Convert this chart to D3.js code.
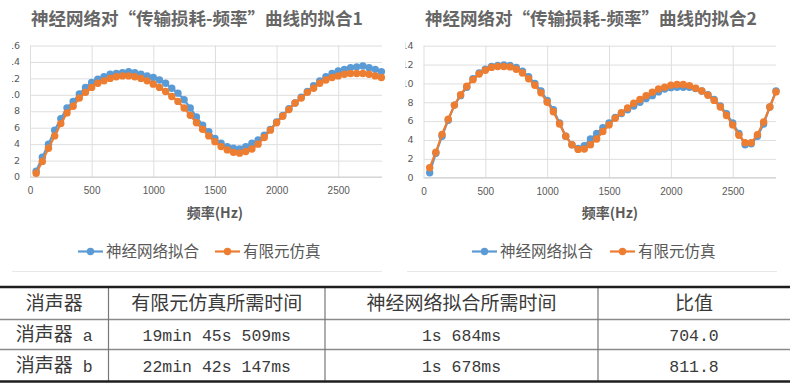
<!DOCTYPE html>
<html>
<head>
<meta charset="utf-8">
<script src="https://cdn.jsdelivr.net/npm/d3@7"></script>
<style>
  html, body { margin: 0; padding: 0; background: #ffffff; }
  svg { display: block; }
  text { white-space: pre; }
</style>
</head>
<body>
<script>
// ---------------- DATA ----------------
const freqs = [50,100,150,200,250,300,350,400,450,500,550,600,650,700,750,800,850,900,950,1000,
  1050,1100,1150,1200,1250,1300,1350,1400,1450,1500,1550,1600,1650,1700,1750,1800,1850,1900,1950,2000,
  2050,2100,2150,2200,2250,2300,2350,2400,2450,2500,2550,2600,2650,2700,2750,2800,2850];

const seriesNames = ["神经网络拟合", "有限元仿真"];

// Chart 1
const nn1 = [0.7,2.4,4.0,5.7,7.1,8.4,9.2,10.1,10.9,11.5,11.9,12.2,12.5,12.6,12.7,12.8,12.7,12.5,12.3,12.1,
  11.8,11.4,10.8,10.2,9.4,8.4,7.3,6.3,5.5,4.7,4.1,3.7,3.5,3.4,3.7,4.1,4.5,5.1,5.8,6.7,
  7.5,8.3,9.0,9.7,10.4,11.1,11.7,12.2,12.6,12.9,13.1,13.3,13.4,13.5,13.3,13.1,12.8];
const fem1 = [0.45,1.9,3.5,5.0,6.5,7.8,8.6,9.6,10.3,10.9,11.4,11.7,12.0,12.2,12.3,12.3,12.2,12.0,11.7,11.3,
  10.9,10.4,9.8,9.2,8.4,7.5,6.6,5.8,5.0,4.3,3.7,3.3,3.0,2.9,3.1,3.4,4.0,4.8,5.7,6.6,
  7.4,8.2,9.0,9.6,10.3,10.8,11.4,11.8,12.1,12.3,12.5,12.6,12.6,12.6,12.5,12.3,12.1];

// Chart 2
const nn2 = [0.53,2.6,4.4,6.1,7.7,8.7,9.6,10.5,11.1,11.5,11.8,11.9,11.95,11.9,11.7,11.3,10.7,10.0,9.2,8.2,
  7.2,5.8,4.4,3.5,3.1,3.4,4.1,4.7,5.3,5.8,6.4,6.8,7.2,7.6,8.0,8.4,8.7,9.1,9.4,9.55,
  9.6,9.6,9.6,9.45,9.2,8.8,8.3,7.6,6.8,5.8,4.7,3.5,3.6,4.4,5.7,7.5,9.2];
const fem2 = [1.06,2.7,4.6,6.2,7.7,8.8,9.7,10.4,11.0,11.4,11.7,11.8,11.8,11.75,11.5,11.1,10.5,9.8,9.0,8.0,
  7.0,5.7,4.4,3.5,3.0,3.05,3.5,4.1,4.9,5.6,6.3,6.9,7.4,7.9,8.3,8.7,9.06,9.4,9.6,9.8,
  9.88,9.88,9.77,9.5,9.2,8.74,8.2,7.5,6.6,5.6,4.5,3.7,3.7,4.57,5.9,7.5,9.1];

const xTicks = [0,500,1000,1500,2000,2500];
const yTicks1 = [0,2,4,6,8,10,12,14,16];
const yTicks2 = [0,2,4,6,8,10,12,14];

const titles = ["神经网络对“传输损耗-频率”曲线的拟合1", "神经网络对“传输损耗-频率”曲线的拟合2"];
const xAxisTitle = "频率(Hz)";

const tableHeader = ["消声器", "有限元仿真所需时间", "神经网络拟合所需时间", "比值"];
const tableRows = [
  ["消声器 a", "19min 45s 509ms", "1s 684ms", "704.0"],
  ["消声器 b", "22min 42s 147ms", "1s 678ms", "811.8"]
];

// ---------------- STYLE ----------------
const colBlue = "#5b9bd5", colOrange = "#ed7d31";
const textGray = "#595959", gridGray = "#dedede";

const svg = d3.select("body").append("svg").attr("width", 800).attr("height", 386);

function drawChart(cfg) {
  const g = svg.append("g");
  const x = d3.scaleLinear().domain([0, cfg.xMax]).range([cfg.left, cfg.right]);
  const y = d3.scaleLinear().domain([0, cfg.yMax]).range([cfg.bottom, cfg.top]);

  // clip for the cropped y labels (the original picture is cut on the left)
  const clipId = "clip" + cfg.id;
  svg.append("clipPath").attr("id", clipId).append("rect")
    .attr("x", cfg.clipX).attr("y", 0).attr("width", 400).attr("height", 386);

  // y gridlines
  const yAxis = d3.axisLeft(y).tickValues(cfg.yTicks).tickSize(-(cfg.right - cfg.left)).tickPadding(10)
    .tickFormat(d3.format("d"));
  const yg = g.append("g").attr("transform", `translate(${cfg.left},0)`).call(yAxis);
  yg.select(".domain").remove();
  yg.selectAll(".tick line").attr("stroke", gridGray).attr("stroke-width", 1);
  // y labels, moved into a clipped group
  const labelsG = g.append("g").attr("clip-path", `url(#${clipId})`);
  yg.selectAll(".tick").each(function(d) {
    const t = d3.select(this).select("text");
    labelsG.append("text")
      .attr("x", cfg.left - 10).attr("y", y(d)).attr("dy", "0.34em")
      .attr("text-anchor", "end").attr("fill", textGray)
      .attr("font-family", "DejaVu Sans").attr("font-size", 9.5)
      .text(t.text());
    t.remove();
  });

  // x gridlines + labels
  const xAxis = d3.axisBottom(x).tickValues(xTicks).tickSize(-(cfg.bottom - cfg.top)).tickPadding(10)
    .tickFormat(d3.format("d"));
  const xg = g.append("g").attr("transform", `translate(0,${cfg.bottom})`).call(xAxis);
  xg.select(".domain").remove();
  xg.selectAll(".tick line").attr("stroke", gridGray).attr("stroke-width", 1);
  xg.selectAll(".tick text").attr("fill", textGray).attr("font-family", "Liberation Sans").attr("font-size", 10);

  // axis bottom line
  g.append("line").attr("x1", cfg.left).attr("x2", cfg.right).attr("y1", cfg.bottom).attr("y2", cfg.bottom)
    .attr("stroke", "#d0d0d0").attr("stroke-width", 1);

  // series
  const series = [
    { name: seriesNames[0], values: cfg.nn, color: colBlue },
    { name: seriesNames[1], values: cfg.fem, color: colOrange }
  ];
  const line = d3.line().x((d, i) => x(freqs[i])).y(d => y(d));
  series.forEach(s => {
    g.append("path").datum(s.values).attr("d", line).attr("fill", "none")
      .attr("stroke", s.color).attr("stroke-width", 2.2).attr("stroke-linejoin", "round");
    g.append("g").selectAll("circle").data(s.values).join("circle")
      .attr("cx", (d, i) => x(freqs[i])).attr("cy", d => y(d)).attr("r", 3.7).attr("fill", s.color);
  });

  // title
  g.append("text").attr("x", cfg.titleX).attr("y", 25).attr("text-anchor", "middle")
    .attr("font-family", "Noto Sans CJK SC").attr("font-weight", "bold").attr("font-size", 17.5)
    .attr("fill", "#666666").text(cfg.title);

  // axis title
  g.append("text").attr("x", cfg.axisTitleX).attr("y", 218).attr("text-anchor", "middle")
    .attr("font-family", "Noto Sans CJK SC").attr("font-weight", "bold").attr("font-size", 14)
    .attr("fill", textGray).text(xAxisTitle);

  // legend
  cfg.legend.forEach((lx, i) => {
    const s = series[i];
    g.append("line").attr("x1", lx).attr("x2", lx + 25).attr("y1", 251.5).attr("y2", 251.5)
      .attr("stroke", s.color).attr("stroke-width", 2.2);
    g.append("circle").attr("cx", lx + 12.5).attr("cy", 251.5).attr("r", 3.7).attr("fill", s.color);
    g.append("text").attr("x", lx + 28).attr("y", 257).attr("font-family", "Noto Sans CJK SC")
      .attr("font-size", 15.5).attr("fill", textGray).text(s.name);
  });

  // light frame line at bottom of chart
  g.append("line").attr("x1", cfg.frameX1).attr("x2", cfg.frameX2).attr("y1", 271.5).attr("y2", 271.5)
    .attr("stroke", "#e8e8e8").attr("stroke-width", 1);
}

drawChart({ id: 1, title: titles[0], titleX: 197, left: 30, right: 382, top: 45.5, bottom: 177,
  xMax: 2855, yMax: 16, yTicks: yTicks1, nn: nn1, fem: fem1, clipX: 12, axisTitleX: 215,
  legend: [78, 215], frameX1: 12, frameX2: 382 });
drawChart({ id: 2, title: titles[1], titleX: 591, left: 423.5, right: 776, top: 45.7, bottom: 177.7,
  xMax: 2850, yMax: 14, yTicks: yTicks2, nn: nn2, fem: fem2, clipX: 405.5, axisTitleX: 610,
  legend: [472, 610], frameX1: 407, frameX2: 777 });

// ---------------- TABLE ----------------
const tbl = svg.append("g");
const colEdges = [0, 108.5, 325, 598, 790];
const rowEdges = [287, 319.5, 349.5, 381.5];
const rowBaselines = [310, 341, 371.5];

function addRich(sel, str) {
  const parts = str.match(/[\u3000-\u9fff\uff00-\uffef]+|[^\u3000-\u9fff\uff00-\uffef]+/g);
  parts.forEach(p => {
    const cjk = /[\u3000-\u9fff\uff00-\uffef]/.test(p);
    sel.append("tspan").text(p)
      .attr("font-family", cjk ? "Noto Sans CJK SC" : "Liberation Mono")
      .attr("font-size", cjk ? 19 : 16.5);
  });
}

[tableHeader, ...tableRows].forEach((row, ri) => {
  row.forEach((cell, ci) => {
    const t = tbl.append("text")
      .attr("x", (colEdges[ci] + colEdges[ci + 1]) / 2)
      .attr("y", rowBaselines[ri])
      .attr("text-anchor", "middle").attr("fill", "#3a3a3a");
    addRich(t, cell);
  });
});

// inner row lines
[rowEdges[1], rowEdges[2]].forEach(yv => {
  tbl.append("line").attr("x1", 0).attr("x2", colEdges[4]).attr("y1", yv).attr("y2", yv)
    .attr("stroke", "#8a8a8a").attr("stroke-width", 1.3);
});
// vertical lines
[colEdges[1], colEdges[2], colEdges[3]].forEach(xv => {
  tbl.append("line").attr("x1", xv).attr("x2", xv).attr("y1", rowEdges[0]).attr("y2", rowEdges[3])
    .attr("stroke", "#777777").attr("stroke-width", 1.2);
});
// thick top/bottom lines
[rowEdges[0], rowEdges[3]].forEach(yv => {
  tbl.append("line").attr("x1", 0).attr("x2", colEdges[4]).attr("y1", yv).attr("y2", yv)
    .attr("stroke", "#1e1e1e").attr("stroke-width", 2.6);
});
</script>
</body>
</html>
